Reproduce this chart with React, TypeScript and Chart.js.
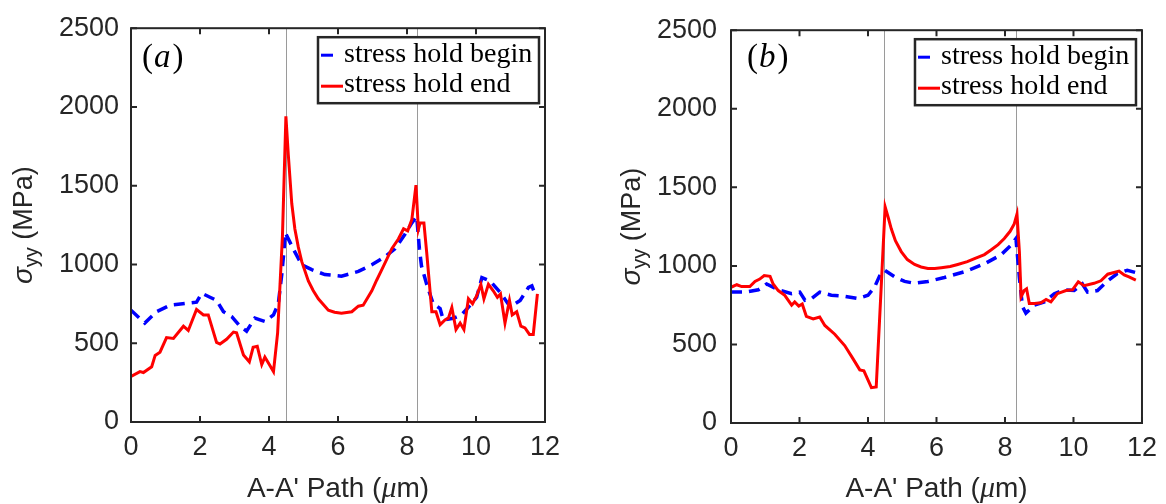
import { useEffect, useRef } from "react";
import { Chart, registerables } from "chart.js";

Chart.register(...registerables);

// Panel (a): sigma_yy along the A-A' path (x in µm, y in MPa)
const aBeginX = [0, 0.4, 0.74, 1.13, 1.37, 1.66, 1.9, 2.05, 2.29, 2.48, 2.68, 2.92, 3.16, 3.35, 3.59, 3.74, 3.88, 4.13, 4.27, 4.37, 4.44, 4.47, 4.7, 4.95, 5.24, 5.62, 6.1, 6.59, 6.98, 7.36, 7.65, 7.94, 8.14, 8.28, 8.36, 8.42, 8.57, 8.76, 8.96, 9.05, 9.34, 9.58, 9.83, 10.02, 10.17, 10.41, 10.7, 10.99, 11.28, 11.52, 11.62, 11.71];
const aBeginY = [710, 628, 700, 741, 747, 755, 761, 817, 792, 772, 700, 669, 608, 577, 659, 648, 638, 680, 751, 936, 1100, 1203, 1100, 998, 967, 936, 926, 956, 998, 1049, 1100, 1192, 1264, 1305, 1100, 990, 874, 751, 720, 648, 659, 680, 741, 792, 916, 895, 823, 731, 772, 854, 864, 813];

const aEndX = [0, 0.26, 0.36, 0.6, 0.7, 0.84, 1.03, 1.23, 1.52, 1.66, 1.9, 2.1, 2.24, 2.48, 2.58, 2.77, 2.97, 3.06, 3.26, 3.43, 3.54, 3.66, 3.79, 3.88, 4.13, 4.25, 4.39, 4.49, 4.56, 4.66, 4.75, 4.85, 4.95, 5.14, 5.28, 5.43, 5.72, 5.9, 6.1, 6.4, 6.59, 6.73, 6.98, 7.12, 7.27, 7.56, 7.75, 7.9, 8.02, 8.14, 8.26, 8.33, 8.38, 8.49, 8.57, 8.72, 8.84, 8.96, 9.1, 9.2, 9.3, 9.42, 9.54, 9.65, 9.78, 9.9, 10.02, 10.14, 10.23, 10.36, 10.5, 10.62, 10.71, 10.84, 10.97, 11.05, 11.18, 11.3, 11.42, 11.55, 11.66, 11.78];
const aEndY = [289, 320, 314, 351, 423, 443, 536, 530, 608, 581, 714, 680, 680, 505, 495, 525, 571, 566, 425, 382, 474, 480, 365, 412, 320, 566, 1182, 1941, 1695, 1387, 1225, 1110, 1018, 895, 835, 782, 710, 697, 690, 700, 735, 741, 833, 900, 967, 1100, 1162, 1227, 1213, 1285, 1504, 1223, 1264, 1264, 1079, 700, 700, 618, 648, 659, 727, 587, 628, 587, 782, 751, 802, 874, 782, 874, 833, 792, 813, 628, 772, 680, 700, 608, 597, 556, 556, 813];

// Panel (b)
const bBeginX = [0, 0.41, 0.8, 1.04, 1.38, 1.77, 2.01, 2.16, 2.35, 2.59, 2.93, 3.32, 3.71, 4.0, 4.19, 4.37, 4.49, 4.78, 5.07, 5.36, 5.75, 6.23, 6.82, 7.4, 7.88, 8.18, 8.32, 8.42, 8.51, 8.61, 8.86, 9.15, 9.44, 9.73, 10.02, 10.26, 10.41, 10.7, 11.0, 11.28, 11.57, 11.82];
const bBeginY = [833, 833, 848, 885, 848, 823, 833, 782, 792, 833, 813, 806, 792, 813, 864, 951, 972, 930, 901, 889, 901, 926, 963, 1013, 1070, 1132, 1174, 926, 741, 699, 751, 771, 823, 848, 843, 885, 833, 843, 905, 951, 972, 957];

const bEndX = [0, 0.17, 0.31, 0.55, 0.7, 0.84, 0.97, 1.14, 1.23, 1.38, 1.57, 1.77, 1.86, 1.98, 2.08, 2.2, 2.4, 2.59, 2.74, 3.03, 3.32, 3.56, 3.76, 3.88, 4.1, 4.24, 4.39, 4.5, 4.6, 4.68, 4.8, 4.97, 5.15, 5.36, 5.55, 5.75, 5.95, 6.14, 6.4, 6.62, 6.9, 7.11, 7.4, 7.59, 7.8, 7.98, 8.15, 8.27, 8.35, 8.42, 8.47, 8.56, 8.63, 8.71, 8.86, 9.05, 9.2, 9.34, 9.53, 9.78, 9.97, 10.14, 10.31, 10.6, 10.8, 11.0, 11.33, 11.48, 11.62, 11.82];
const bEndY = [864, 880, 868, 868, 901, 916, 939, 934, 885, 843, 812, 750, 771, 744, 757, 679, 662, 675, 621, 565, 493, 410, 338, 332, 225, 229, 885, 1376, 1300, 1236, 1160, 1091, 1040, 1009, 993, 984, 983, 988, 996, 1009, 1027, 1046, 1072, 1101, 1135, 1174, 1220, 1267, 1329, 1091, 803, 843, 854, 761, 761, 765, 786, 771, 823, 843, 848, 899, 874, 889, 905, 947, 967, 942, 930, 910];

// Grain-boundary positions along the path (µm)
const aInterfaces = [4.48, 8.3];
const bInterfaces = [4.47, 8.32];

const xTicks = [0, 2, 4, 6, 8, 10, 12];
const yTicks = [0, 500, 1000, 1500, 2000, 2500];
const seriesNames = ["stress hold begin", "stress hold end"];

const W = 583;
const H = 504;
const INK = "#262626";
const SANS = '"Liberation Sans", Arial, Helvetica, sans-serif';
const SERIF = '"Liberation Serif", "Times New Roman", serif';

type Spec = {
  tag: string;
  beginX: number[];
  beginY: number[];
  endX: number[];
  endY: number[];
  interfaces: number[];
  area: { left: number; right: number; top: number; bottom: number };
  yTitleBase: number;
  tagDx: number;
  tagDy: number;
  yTickPad: number;
};

const panels: Spec[] = [
  {
    tag: "a",
    beginX: aBeginX,
    beginY: aBeginY,
    endX: aEndX,
    endY: aEndY,
    interfaces: aInterfaces,
    area: { left: 131, right: 545, top: 16, bottom: 422 },
    yTitleBase: 32,
    tagDx: 11,
    tagDy: 39,
    yTickPad: 12,
  },
  {
    tag: "b",
    beginX: bBeginX,
    beginY: bBeginY,
    endX: bEndX,
    endY: bEndY,
    interfaces: bInterfaces,
    area: { left: 148, right: 561, top: 19, bottom: 423 },
    yTitleBase: 57,
    tagDx: 16,
    tagDy: 37,
    yTickPad: 14,
  },
];

function framePlugin(spec: Spec) {
  return {
    id: "frame-" + spec.tag,
    beforeDatasetsDraw(chart: any) {
      const { ctx, chartArea: a, scales } = chart;
      ctx.save();
      ctx.strokeStyle = "#9a9a9a";
      ctx.lineWidth = 1;
      for (const v of spec.interfaces) {
        const px = Math.round(scales.x.getPixelForValue(v)) + 0.5;
        ctx.beginPath();
        ctx.moveTo(px, a.top);
        ctx.lineTo(px, a.bottom);
        ctx.stroke();
      }
      ctx.restore();
    },
    afterDatasetsDraw(chart: any) {
      const { ctx, chartArea: a, scales } = chart;
      ctx.save();

      // axes box with inward ticks on all four sides
      ctx.strokeStyle = INK;
      ctx.lineWidth = 2;
      ctx.strokeRect(a.left, a.top, a.right - a.left, a.bottom - a.top);
      const tl = 6;
      ctx.beginPath();
      for (const v of xTicks) {
        const px = scales.x.getPixelForValue(v);
        ctx.moveTo(px, a.bottom);
        ctx.lineTo(px, a.bottom - tl);
        ctx.moveTo(px, a.top);
        ctx.lineTo(px, a.top + tl);
      }
      for (const v of yTicks) {
        const py = scales.y.getPixelForValue(v);
        ctx.moveTo(a.left, py);
        ctx.lineTo(a.left + tl, py);
        ctx.moveTo(a.right, py);
        ctx.lineTo(a.right - tl, py);
      }
      ctx.stroke();

      // legend box
      const lw = 221;
      const lh = 66;
      const lx = a.right - 6 - lw;
      const ly = a.top + 9;
      ctx.fillStyle = "#ffffff";
      ctx.fillRect(lx, ly, lw, lh);
      ctx.lineWidth = 2.5;
      ctx.strokeStyle = INK;
      ctx.strokeRect(lx, ly, lw, lh);

      const ds = chart.data.datasets;
      ctx.save();
      ctx.strokeStyle = ds[0].borderColor;
      ctx.lineWidth = 3;
      ctx.setLineDash([12, 10]);
      ctx.beginPath();
      ctx.moveTo(lx + 3, ly + 18);
      ctx.lineTo(lx + 24, ly + 18);
      ctx.stroke();
      ctx.restore();
      ctx.strokeStyle = ds[1].borderColor;
      ctx.lineWidth = 3;
      ctx.beginPath();
      ctx.moveTo(lx + 3, ly + 49);
      ctx.lineTo(lx + 25, ly + 49);
      ctx.stroke();

      ctx.fillStyle = "#000000";
      ctx.font = `28px ${SERIF}`;
      ctx.textBaseline = "alphabetic";
      ctx.textAlign = "left";
      ctx.fillText(ds[0].label, lx + 26, ly + 25);
      ctx.fillText(ds[1].label, lx + 26, ly + 55);

      // panel tag, e.g. (a)
      let tx = a.left + spec.tagDx;
      const ty = a.top + spec.tagDy;
      ctx.font = `33px ${SERIF}`;
      ctx.fillText("(", tx, ty);
      tx += ctx.measureText("(").width + 1;
      ctx.font = `italic 33px ${SERIF}`;
      ctx.fillText(spec.tag, tx, ty);
      tx += ctx.measureText(spec.tag).width + 2;
      ctx.font = `33px ${SERIF}`;
      ctx.fillText(")", tx, ty);

      // x-axis title: A-A' Path (µm)
      ctx.fillStyle = INK;
      const p1 = "A-A' Path (";
      const p2 = "\u03bc";
      const p3 = "m)";
      const fSans = `28px ${SANS}`;
      const fMu = `italic 30px ${SERIF}`;
      ctx.font = fSans;
      const w1 = ctx.measureText(p1).width;
      const w3 = ctx.measureText(p3).width;
      ctx.font = fMu;
      const w2 = ctx.measureText(p2).width;
      let xx = (a.left + a.right) / 2 - (w1 + w2 + w3) / 2;
      const xb = 497;
      ctx.font = fSans;
      ctx.fillText(p1, xx, xb);
      xx += w1;
      ctx.font = fMu;
      ctx.fillText(p2, xx, xb);
      xx += w2;
      ctx.font = fSans;
      ctx.fillText(p3, xx, xb);

      // y-axis title: sigma_yy (MPa), rotated
      const fSig = `italic 28px ${SANS}`;
      const fSub = `20px ${SANS}`;
      const fY = `27px ${SANS}`;
      const s1 = "\u03c3";
      const s2 = "yy";
      const s3 = " (MPa)";
      ctx.font = fSig;
      const v1 = ctx.measureText(s1).width;
      ctx.font = fSub;
      const v2 = ctx.measureText(s2).width;
      ctx.font = fY;
      const v3 = ctx.measureText(s3).width;
      ctx.translate(spec.yTitleBase, (a.top + a.bottom) / 2);
      ctx.rotate(-Math.PI / 2);
      let yy = -(v1 + v2 + v3) / 2;
      ctx.font = fSig;
      ctx.fillText(s1, yy, 0);
      yy += v1;
      ctx.font = fSub;
      ctx.fillText(s2, yy, 6);
      yy += v2;
      ctx.font = fY;
      ctx.fillText(s3, yy, 0);

      ctx.restore();
    },
  };
}

function Panel({ spec, left }: { spec: Spec; left: number }) {
  const ref = useRef<HTMLCanvasElement>(null);
  useEffect(() => {
    const canvas = ref.current;
    if (!canvas) return;
    const chart = new Chart(canvas, {
      type: "line",
      data: {
        datasets: [
          {
            label: seriesNames[0],
            data: spec.beginX.map((x, i) => ({ x, y: spec.beginY[i] })),
            borderColor: "#0000ff",
            borderWidth: 3.5,
            borderDash: [11, 7],
            pointRadius: 0,
            fill: false,
            tension: 0,
            order: 1,
          },
          {
            label: seriesNames[1],
            data: spec.endX.map((x, i) => ({ x, y: spec.endY[i] })),
            borderColor: "#ff0000",
            borderWidth: 3,
            pointRadius: 0,
            fill: false,
            tension: 0,
            order: 0,
          },
        ],
      },
      options: {
        responsive: false,
        maintainAspectRatio: false,
        animation: false,
        events: [],
        layout: {
          padding: { left: 0, top: spec.area.top, right: W - spec.area.right, bottom: 0 },
        },
        plugins: { legend: { display: false }, tooltip: { enabled: false } },
        scales: {
          x: {
            type: "linear",
            min: 0,
            max: 12,
            grid: { display: false, drawTicks: false },
            border: { display: false },
            ticks: {
              color: INK,
              font: { family: SANS, size: 27 },
              padding: 9,
              maxRotation: 0,
              callback: (v: any) => String(v),
            },
            afterBuildTicks: (s: any) => {
              s.ticks = xTicks.map((v) => ({ value: v }));
            },
            afterFit: (s: any) => {
              s.height = H - spec.area.bottom;
            },
          },
          y: {
            type: "linear",
            min: 0,
            max: 2500,
            grid: { display: false, drawTicks: false },
            border: { display: false },
            ticks: {
              color: INK,
              font: { family: SANS, size: 27 },
              padding: spec.yTickPad,
              callback: (v: any) => String(v),
            },
            afterBuildTicks: (s: any) => {
              s.ticks = yTicks.map((v) => ({ value: v }));
            },
            afterFit: (s: any) => {
              s.width = spec.area.left;
            },
          },
        },
      },
      plugins: [framePlugin(spec)],
    } as any);
    return () => chart.destroy();
  }, [spec]);
  return (
    <canvas
      ref={ref}
      width={W}
      height={H}
      style={{ position: "absolute", left, top: 0, width: W, height: H, display: "block" }}
    />
  );
}

export default function App() {
  return (
    <div style={{ position: "fixed", left: 0, top: 0, width: 1166, height: 504, background: "#ffffff" }}>
      <Panel spec={panels[0]} left={0} />
      <Panel spec={panels[1]} left={583} />
    </div>
  );
}
